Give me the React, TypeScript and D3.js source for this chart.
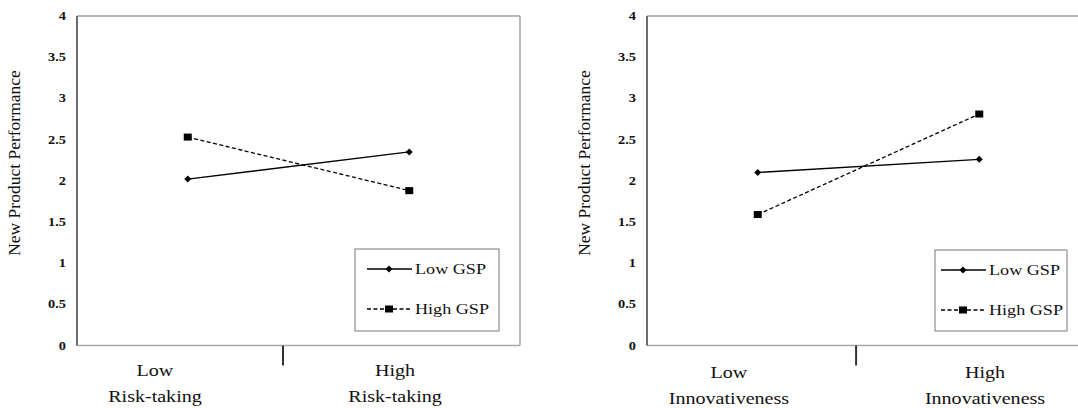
import React from 'react';
import * as d3 from 'd3';

// values
const categories = ['Low', 'High'];
const yTicks = [0, 0.5, 1, 1.5, 2, 2.5, 3, 3.5, 4];
const seriesNames = ['Low GSP', 'High GSP'];
const riskLowGSP = [2.02, 2.35];
const riskHighGSP = [2.53, 1.88];
const innovLowGSP = [2.1, 2.26];
const innovHighGSP = [1.59, 2.81];
const xTitles = ['Risk-taking', 'Innovativeness'];
const yTitle = 'New Product Performance';

const W = 1078;
const H = 408;
const top = 16;
const bottom = 345.5;
const serif = 'Liberation Serif, DejaVu Serif, serif';

const y = d3.scaleLinear().domain([0, 4]).range([bottom, top]);

type PanelProps = {
  left: number;
  lowGSP: number[];
  highGSP: number[];
  xTitle: string;
  labelPos: number[];
  tickPos: number;
  labelY: number;
  legend: { x: number; y: number; w: number; h: number; lx: number };
};

const Diamond = ({ cx, cy }: { cx: number; cy: number }) => (
  <path d={`M${cx},${cy - 3.5}L${cx + 3.5},${cy}L${cx},${cy + 3.5}L${cx - 3.5},${cy}Z`} fill="#000" />
);
const Square = ({ cx, cy }: { cx: number; cy: number }) => (
  <rect x={cx - 4} y={cy - 3.5} width={8} height={7} fill="#000" />
);

const Panel = ({ left, lowGSP, highGSP, xTitle, labelPos, tickPos, labelY, legend }: PanelProps) => {
  const x = d3.scaleLinear().domain([0, 1]).range([left, left + 443]);
  const pointPos = [0.25, 0.75];
  const line = d3.line<number>().x((_, i) => x(pointPos[i])).y(d => y(d));
  const right = x(1);
  const txt = { fontFamily: serif, fill: '#111' };

  return (
    <g>
      {/* frame */}
      <line x1={left} x2={right} y1={top} y2={top} stroke="#a0a0a0" strokeWidth={1.5} />
      <line x1={right} x2={right} y1={top} y2={bottom} stroke="#a0a0a0" strokeWidth={1.5} />
      <line x1={left} x2={right} y1={bottom} y2={bottom} stroke="#a8a8a8" strokeWidth={1.5} />
      <line x1={left} x2={left} y1={top} y2={bottom} stroke="#6b6b6b" strokeWidth={2} />
      <line x1={x(tickPos)} x2={x(tickPos)} y1={bottom} y2={bottom + 20} stroke="#333" strokeWidth={2} />

      {yTicks.map(t => (
        <text key={t} transform={`translate(${left - 11},${y(t) + 4}) scale(1.25,1)`} textAnchor="end"
          style={{ ...txt, fontWeight: 'bold', fontSize: 11.5 }}>{t}</text>
      ))}

      <text transform={`translate(${left - 57},163) rotate(-90)`} textAnchor="middle"
        style={{ ...txt, fontSize: 17.5 }}>{yTitle}</text>

      {categories.map((c, i) => (
        <g key={c}>
          <text transform={`translate(${x(labelPos[i])},${labelY}) scale(1.18,1)`} textAnchor="middle"
            style={{ ...txt, fontSize: 17 }}>{c}</text>
          <text transform={`translate(${x(labelPos[i])},${labelY + 26}) scale(1.18,1)`} textAnchor="middle"
            style={{ ...txt, fontSize: 17 }}>{xTitle}</text>
        </g>
      ))}

      <path d={line(lowGSP) || ''} fill="none" stroke="#000" strokeWidth={1.3} />
      <path d={line(highGSP) || ''} fill="none" stroke="#000" strokeWidth={1.3} strokeDasharray="4,2.5" />
      {lowGSP.map((v, i) => <Diamond key={i} cx={x(pointPos[i])} cy={y(v)} />)}
      {highGSP.map((v, i) => <Square key={i} cx={x(pointPos[i])} cy={y(v)} />)}

      {/* legend */}
      <rect x={legend.x} y={legend.y} width={legend.w} height={legend.h} fill="#fff" stroke="#777" strokeWidth={1} />
      {seriesNames.map((s, i) => {
        const ry = legend.y + 20 + i * 40;
        const lx = legend.lx;
        return (
          <g key={s}>
            <line x1={lx} x2={lx + 45} y1={ry} y2={ry} stroke="#000" strokeWidth={1.3}
              strokeDasharray={i === 1 ? '4,2.5' : undefined} />
            {i === 0 ? <Diamond cx={lx + 22} cy={ry} /> : <Square cx={lx + 22} cy={ry} />}
            <text transform={`translate(${lx + 48},${ry + 5}) scale(1.17,1)`}
              style={{ ...txt, fontSize: 15.5 }}>{s}</text>
          </g>
        );
      })}
    </g>
  );
};

export default function App() {
  return (
    <svg width={W} height={H} style={{ position: 'absolute', left: 0, top: 0, background: '#fff' }}>
      <rect width={W} height={H} fill="#fff" />
      <Panel left={77} lowGSP={riskLowGSP} highGSP={riskHighGSP} xTitle={xTitles[0]}
        labelPos={[0.176, 0.718]} tickPos={0.465} labelY={376}
        legend={{ x: 355, y: 249, w: 144, h: 82, lx: 367 }} />
      <Panel left={647} lowGSP={innovLowGSP} highGSP={innovHighGSP} xTitle={xTitles[1]}
        labelPos={[0.185, 0.763]} tickPos={0.472} labelY={378}
        legend={{ x: 935, y: 250, w: 132, h: 81, lx: 941 }} />
    </svg>
  );
}
